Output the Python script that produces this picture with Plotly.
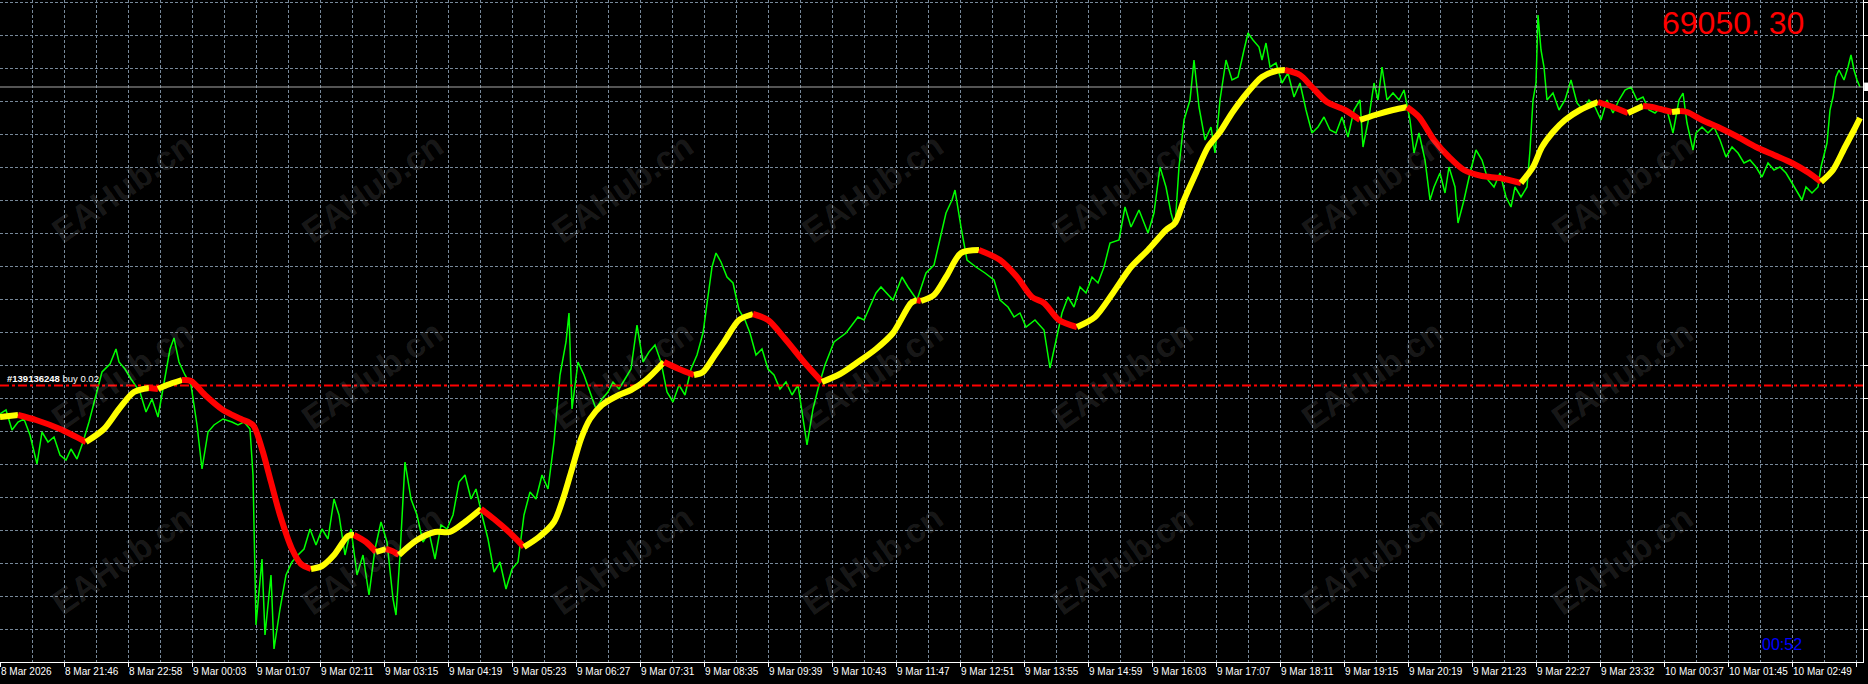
import plotly.graph_objects as go

# ---------------- data ----------------
time_labels = ["8 Mar 2026", "8 Mar 21:46", "8 Mar 22:58", "9 Mar 00:03", "9 Mar 01:07",
               "9 Mar 02:11", "9 Mar 03:15", "9 Mar 04:19", "9 Mar 05:23", "9 Mar 06:27",
               "9 Mar 07:31", "9 Mar 08:35", "9 Mar 09:39", "9 Mar 10:43", "9 Mar 11:47",
               "9 Mar 12:51", "9 Mar 13:55", "9 Mar 14:59", "9 Mar 16:03", "9 Mar 17:07",
               "9 Mar 18:11", "9 Mar 19:15", "9 Mar 20:19", "9 Mar 21:23", "9 Mar 22:27",
               "9 Mar 23:32", "10 Mar 00:37", "10 Mar 01:45", "10 Mar 02:49", "10 Mar 03:53"]
bars_per_label = 64

close_bar = [0, 6, 12, 18, 24, 30, 37, 42, 48, 54, 60, 66, 71, 77, 83, 89, 95, 102, 110, 116,
             119, 125, 131, 140, 146, 152, 158, 164, 170, 174, 179, 185, 191, 197, 202, 208, 214, 223, 232, 238,
             244, 250, 253, 256, 262, 265, 271, 274, 280, 286, 292, 298, 304, 310, 316, 322, 328, 334, 339, 345,
             351, 357, 363, 369, 375, 381, 387, 393, 396, 400, 405, 411, 417, 423, 429, 435, 441, 447, 453, 459,
             465, 471, 476, 482, 488, 494, 500, 506, 512, 518, 524, 530, 536, 542, 548, 554, 560, 566, 569, 572,
             578, 584, 590, 596, 602, 608, 613, 619, 625, 631, 637, 643, 649, 655, 661, 667, 673, 679, 685, 691,
             697, 703, 712, 716, 721, 727, 733, 739, 745, 750, 756, 762, 768, 774, 780, 786, 792, 798, 804, 807,
             813, 819, 825, 834, 846, 858, 864, 876, 881, 893, 902, 908, 917, 926, 934, 940, 946, 952, 955, 961,
             967, 976, 985, 994, 1000, 1008, 1014, 1020, 1026, 1035, 1044, 1050, 1056, 1062, 1068, 1074, 1080, 1086, 1092, 1098,
             1104, 1110, 1119, 1125, 1131, 1139, 1148, 1154, 1160, 1166, 1171, 1175, 1179, 1184, 1190, 1194, 1199, 1205, 1211, 1215,
             1220, 1226, 1232, 1238, 1244, 1248, 1253, 1259, 1262, 1266, 1270, 1276, 1282, 1288, 1294, 1300, 1306, 1312, 1318, 1324,
             1330, 1336, 1342, 1348, 1354, 1360, 1363, 1369, 1374, 1378, 1382, 1387, 1393, 1399, 1404, 1410, 1414, 1419, 1425, 1430,
             1434, 1440, 1445, 1449, 1455, 1458, 1464, 1470, 1476, 1482, 1488, 1494, 1500, 1506, 1511, 1515, 1521, 1527, 1530, 1533,
             1536, 1538, 1541, 1544, 1547, 1553, 1559, 1565, 1571, 1577, 1583, 1589, 1595, 1601, 1607, 1613, 1619, 1625, 1631, 1637,
             1643, 1649, 1655, 1661, 1667, 1673, 1679, 1683, 1687, 1693, 1696, 1702, 1708, 1714, 1720, 1726, 1732, 1738, 1744, 1750,
             1756, 1762, 1768, 1774, 1780, 1786, 1792, 1798, 1802, 1806, 1812, 1818, 1821, 1827, 1830, 1833, 1836, 1839, 1844, 1848,
             1851, 1854, 1857, 1860]
close_price = [67415, 67435, 67335, 67375, 67390, 67310, 67165, 67325, 67275, 67300, 67210, 67185, 67240, 67190, 67275, 67375, 67490, 67625, 67665, 67740,
               67675, 67640, 67590, 67525, 67425, 67490, 67400, 67560, 67740, 67795, 67675, 67610, 67560, 67360, 67140, 67325, 67360, 67390, 67375, 67360,
               67375, 67340, 67110, 66360, 66690, 66310, 66610, 66240, 66440, 66610, 66675, 66710, 66740, 66840, 66760, 66840, 66790, 66990, 66910, 66710,
               66840, 66610, 66710, 66510, 66740, 66875, 66775, 66490, 66410, 66710, 67175, 66990, 66910, 66775, 66825, 66690, 66860, 66840, 66910, 67075,
               67110, 66990, 67040, 66910, 66790, 66625, 66675, 66540, 66640, 66675, 66910, 67025, 66990, 67110, 67040, 67275, 67610, 67775, 67920, 67440,
               67675, 67610, 67525, 67440, 67490, 67525, 67575, 67540, 67590, 67640, 67860, 67675, 67725, 67760, 67675, 67525, 67475, 67560, 67510, 67640,
               67710, 67820, 68150, 68220, 68175, 68100, 68070, 67935, 67885, 67820, 67710, 67740, 67640, 67610, 67540, 67575, 67510, 67560, 67360, 67260,
               67440, 67560, 67660, 67775, 67820, 67900, 67885, 68020, 68050, 67985, 68100, 68050, 67985, 68120, 68160, 68285, 68420, 68485, 68535, 68350,
               68185, 68150, 68120, 68085, 67985, 67950, 67900, 67920, 67850, 67885, 67835, 67645, 67785, 67920, 68000, 67950, 68050, 68020, 68100, 68070,
               68150, 68270, 68285, 68450, 68350, 68435, 68320, 68420, 68650, 68550, 68420, 68350, 68650, 68885, 68985, 69185, 68950, 68785, 68850, 68720,
               68985, 69185, 69085, 69100, 69235, 69320, 69285, 69250, 69185, 69270, 69150, 69170, 69070, 69120, 69000, 69070, 68935, 68820, 68850, 68900,
               68835, 68820, 68900, 68800, 68935, 68985, 68750, 68900, 69070, 68985, 69150, 68985, 69020, 68985, 69035, 68885, 68720, 68820, 68685, 68485,
               68550, 68620, 68520, 68650, 68550, 68370, 68485, 68620, 68735, 68685, 68585, 68550, 68620, 68500, 68450, 68550, 68500, 68550, 68735, 68985,
               69070, 69410, 69235, 69150, 68985, 69020, 68935, 68985, 69085, 68970, 68935, 68985, 68950, 68885, 68985, 68920, 68985, 69035, 69050, 68985,
               69000, 68935, 68920, 68950, 68935, 68820, 68985, 69020, 68870, 68735, 68820, 68850, 68820, 68850, 68785, 68700, 68750, 68720, 68670, 68685,
               68650, 68600, 68670, 68635, 68650, 68620, 68570, 68520, 68485, 68550, 68520, 68550, 68650, 68770, 68935, 69000, 69100, 69135, 69085, 69150,
               69210, 69135, 69085, 69050]

ma_bar = [0, 18, 36, 60, 86, 104, 119, 134, 149, 158, 167, 182, 191, 205, 223, 241, 253, 262, 271, 280,
          292, 301, 311, 322, 334, 348, 354, 366, 376, 386, 392, 399, 417, 435, 450, 465, 481, 494, 509, 524,
          539, 554, 563, 572, 581, 590, 602, 619, 631, 646, 664, 679, 694, 703, 715, 724, 739, 753, 768, 786,
          804, 822, 840, 858, 876, 893, 911, 917, 921, 934, 946, 961, 979, 1000, 1017, 1032, 1044, 1059, 1077, 1095,
          1113, 1131, 1148, 1166, 1175, 1184, 1196, 1208, 1220, 1232, 1247, 1262, 1276, 1285, 1300, 1312, 1327, 1345, 1360, 1375,
          1393, 1407, 1419, 1434, 1449, 1464, 1482, 1500, 1521, 1533, 1542, 1553, 1565, 1580, 1598, 1613, 1628, 1643, 1652, 1664,
          1672, 1680, 1687, 1702, 1720, 1738, 1756, 1774, 1792, 1809, 1821, 1833, 1845, 1854, 1860]
ma_price = [67400, 67410, 67385, 67340, 67275, 67340, 67440, 67525, 67545, 67540, 67560, 67585, 67580, 67510, 67435, 67390, 67360, 67240, 67075, 66910,
            66740, 66665, 66640, 66655, 66710, 66805, 66810, 66775, 66725, 66740, 66730, 66710, 66785, 66825, 66825, 66875, 66940, 66890, 66825, 66750,
            66800, 66875, 66990, 67140, 67290, 67390, 67460, 67510, 67535, 67585, 67675, 67640, 67610, 67625, 67710, 67775, 67885, 67915, 67885, 67785,
            67675, 67575, 67615, 67675, 67740, 67820, 67970, 67985, 67980, 68010, 68100, 68220, 68235, 68185, 68100, 68000, 67970, 67885, 67850, 67900,
            68020, 68150, 68235, 68335, 68370, 68485, 68620, 68750, 68825, 68920, 69020, 69100, 69130, 69135, 69110, 69050, 68975, 68935, 68885, 68910,
            68935, 68950, 68900, 68785, 68700, 68635, 68605, 68595, 68570, 68650, 68750, 68825, 68885, 68935, 68975, 68950, 68920, 68955, 68950, 68935,
            68925, 68930, 68925, 68885, 68845, 68800, 68750, 68710, 68670, 68620, 68575, 68635, 68750, 68835, 68895]

order_price = 67557.5
order_text = "<b>#139136248</b> buy 0.02"
price_text = "69050. 30"
timer_text = "00:52"
watermark = "EAHub.cn"

# ---------------- styling ----------------
GRID = "#778899"
Y_MIN, Y_MAX = 66175, 69485
X_MAX = 1863
PLOT_H = 662

fig = go.Figure()

# close line
fig.add_trace(go.Scatter(x=close_bar, y=close_price, mode="lines",
                         line=dict(color="#00ff00", width=1.5), hoverinfo="skip"))

# bid line
bid = close_price[-1]
fig.add_trace(go.Scatter(x=[0, X_MAX], y=[bid, bid], mode="lines",
                         line=dict(color="#a8a8a8", width=1), hoverinfo="skip"))

# order line
fig.add_trace(go.Scatter(x=[0, X_MAX], y=[order_price, order_price], mode="lines",
                         line=dict(color="#ff0000", width=2, dash="9px,3px,3px,3px"), hoverinfo="skip"))

# trend moving average, coloured by direction
UP, DOWN = "#ffff00", "#ff0000"
segments = []
current = None
for i in range(len(ma_bar) - 1):
    c = UP if ma_price[i + 1] >= ma_price[i] else DOWN
    if c != current:
        segments.append((c, [i]))
        current = c
    segments[-1][1].append(i + 1)
for c, idx in segments:
    fig.add_trace(go.Scatter(x=[ma_bar[j] for j in idx], y=[ma_price[j] for j in idx],
                             mode="lines", line=dict(color=c, width=6, shape="spline", smoothing=0.8),
                             hoverinfo="skip"))

annotations = []
# watermarks
for row_px in (123, 375, 625):
    for col in range(8):
        annotations.append(dict(x=122 + 250 * col, y=1 - row_px / PLOT_H, xref="x", yref="paper",
                                text="<b>" + watermark + "</b>", showarrow=False, textangle=-35,
                                font=dict(family="Liberation Sans", size=34, color="rgba(255,255,255,0.11)")))

# price text
annotations.append(dict(x=1660, y=1 - 23 / PLOT_H, xref="x", yref="paper", xanchor="left", yanchor="middle",
                        text=price_text, showarrow=False,
                        font=dict(family="Liberation Sans", size=32, color="#ff0000")))
# timer
annotations.append(dict(x=1782, y=1 - 644 / PLOT_H, xref="x", yref="paper", xanchor="center", yanchor="middle",
                        text=timer_text, showarrow=False,
                        font=dict(family="Liberation Sans", size=16, color="#0000ff")))
# order label
annotations.append(dict(x=5, y=1 - 379 / PLOT_H, xref="x", yref="paper", xanchor="left", yanchor="middle",
                        text=order_text, showarrow=False,
                        font=dict(family="Liberation Sans", size=9.5, color="#ffffff")))

label_bars = [bars_per_label * i for i in range(len(time_labels))]
minor_bars = [bars_per_label * i + bars_per_label // 2 for i in range(len(time_labels))]

fig.update_layout(
    width=1868, height=684,
    margin=dict(l=0, r=1868 - X_MAX, t=0, b=684 - PLOT_H),
    paper_bgcolor="#000000", plot_bgcolor="#000000",
    showlegend=False,
    annotations=annotations,
    shapes=[dict(type="rect", xref="paper", yref="y", x0=1.0006, x1=1.01,
                 y0=bid - 20, y1=bid + 22, fillcolor="#ffffff", line=dict(width=0))],
    xaxis=dict(range=[0, X_MAX], tickmode="array", tickvals=label_bars, ticktext=time_labels,
               ticks="outside", ticklen=4, tickcolor="#ffffff", tickwidth=1, tickangle=0,
               showline=True, linecolor="#ffffff", linewidth=1,
               showgrid=True, gridcolor=GRID, griddash="3px,2px", gridwidth=1,
               minor=dict(tickmode="array", tickvals=minor_bars, showgrid=True, gridcolor=GRID,
                          griddash="3px,2px", gridwidth=1, ticks=""),
               tickfont=dict(family="Liberation Sans", size=10, color="#ffffff"),
               ticklabelposition="outside right", zeroline=False, automargin=False, fixedrange=True),
    yaxis=dict(range=[Y_MIN, Y_MAX], side="right", tickmode="linear", tick0=69471.5, dtick=165,
               showticklabels=False, ticks="outside", ticklen=5, tickcolor="#ffffff",
               showline=True, linecolor="#ffffff", linewidth=1,
               showgrid=True, gridcolor=GRID, griddash="3px,2px", gridwidth=1,
               zeroline=False, automargin=False, fixedrange=True),
)

fig.write_html("out.html", config={"displayModeBar": False},
               post_script="document.body.style.margin='0';document.body.style.overflow='hidden';")
